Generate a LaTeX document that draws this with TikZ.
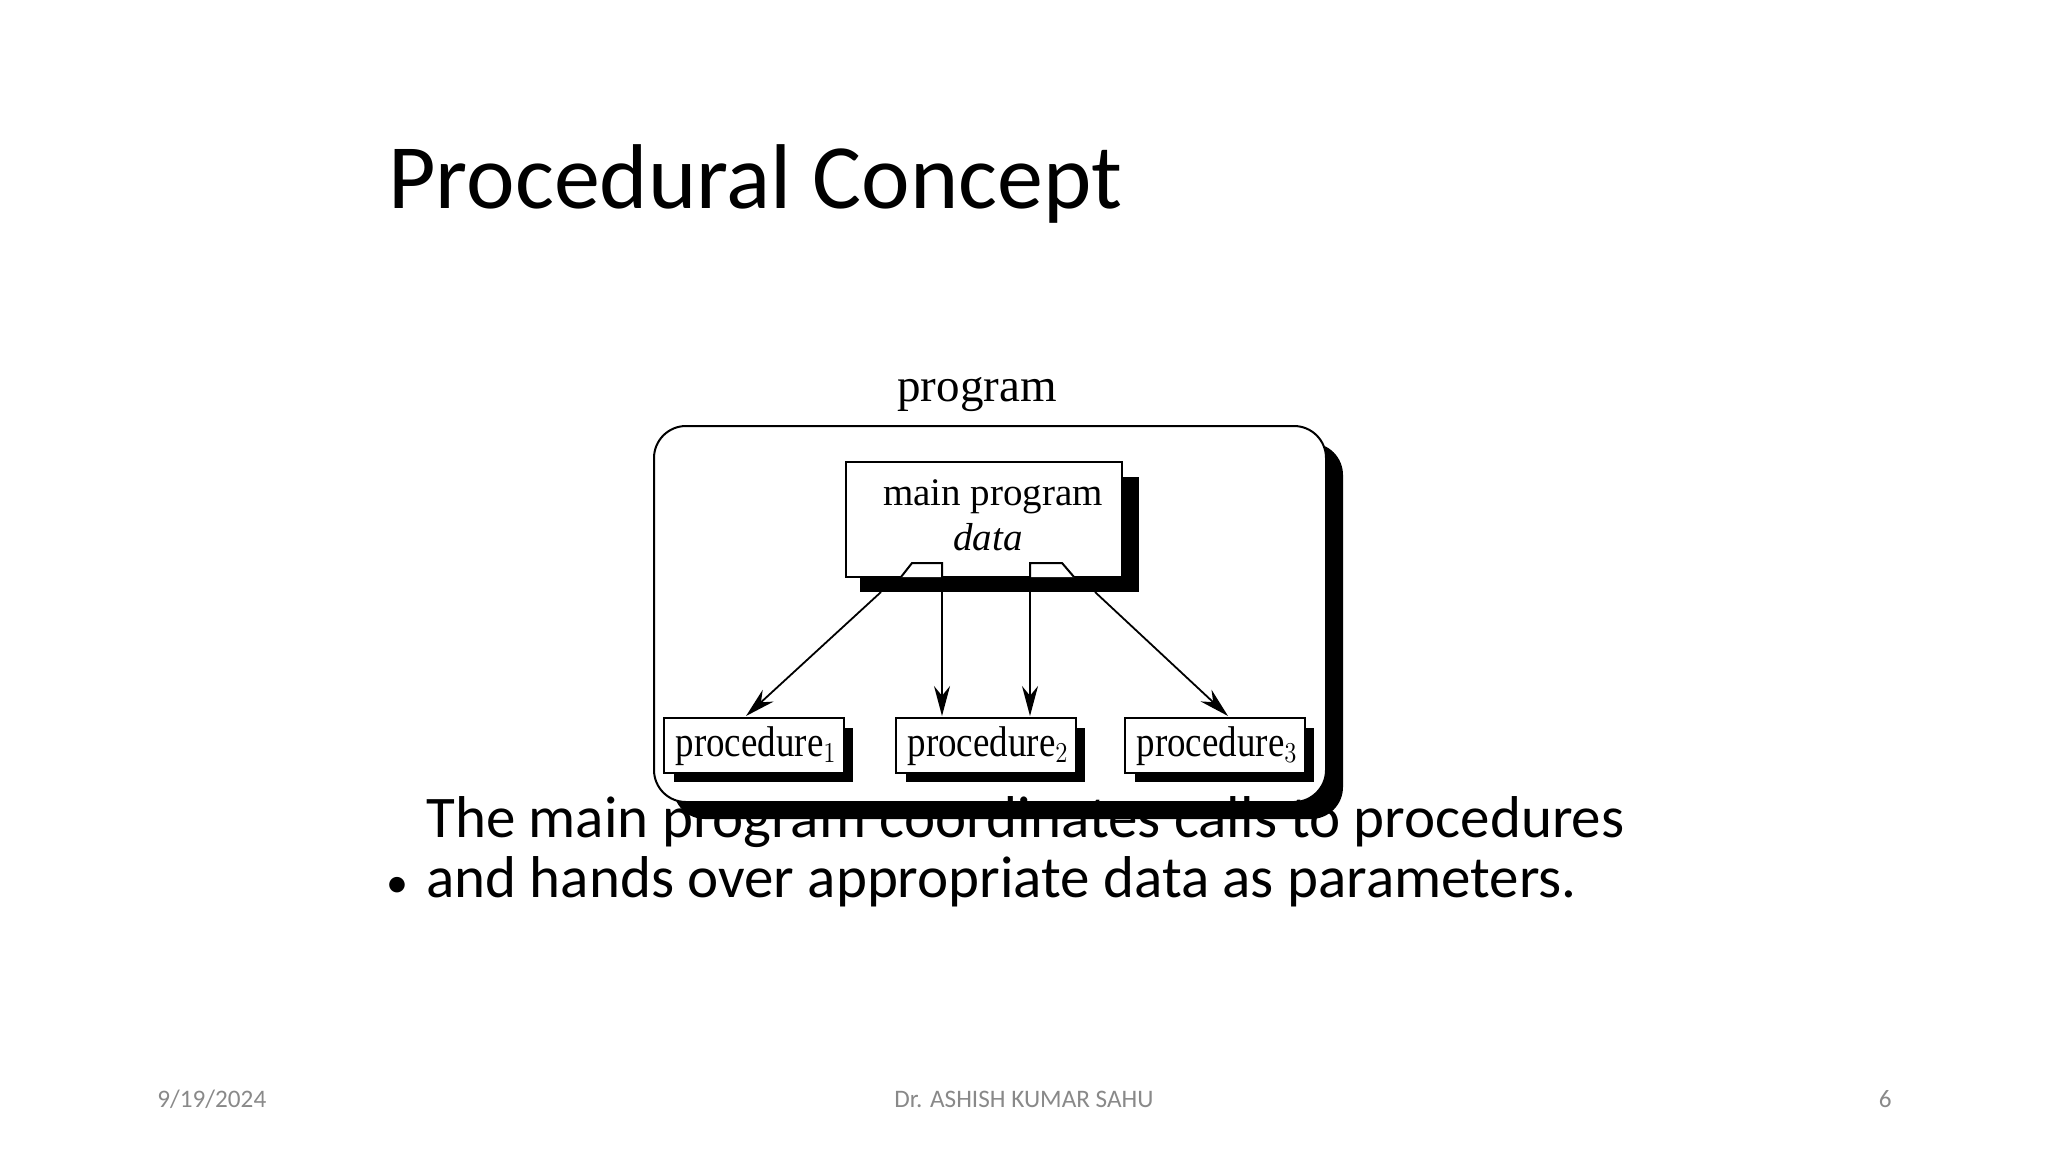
\documentclass[tikz,border=0pt]{standalone}
\usepackage{fontspec}
\setmainfont{Liberation Serif}
\newfontfamily\calfnt{Carlito}
\usetikzlibrary{arrows.meta}
\definecolor{foot}{RGB}{137,137,137}
\tikzset{
  box/.style={draw=black,fill=white,line width=1pt},
  shad/.style={fill=black},
  arr/.style={line width=0.9pt,-{Stealth[length=15pt,width=8pt]}},
}
\begin{document}
\begin{tikzpicture}[x=0.5pt,y=-0.5pt]
\useasboundingbox (0,0) rectangle (2048,1152);
% title
\node[anchor=base west,inner sep=0pt,font=\calfnt\fontsize{46}{54}\selectfont] (title) at (388,208) {Procedural Concept};
% outer
\fill[shad,rounded corners=16pt] (673,443) rectangle (1343,819);
\draw[box,rounded corners=16pt] (654,426) rectangle (1326,802);
\node[font=\fontsize{23.5}{26}\selectfont] (prog) at (977,395) {program};
% main program
\fill[shad] (860,477) rectangle (1139,592);
\draw[box] (846,462) rectangle (1122,577);
\node[font=\fontsize{19.5}{22}\selectfont] (mp) at (993,497) {main program};
\node[font=\itshape\fontsize{19.5}{22}\selectfont] (dt) at (988,537) {data};
% tabs
\draw[line width=1pt,fill=white] (901,577) -- (912,563) -- (942,563) -- (942,577);
\draw[line width=1pt,fill=white] (1030,577) -- (1030,563) -- (1062,563) -- (1074,577);
\coordinate (t1) at (942,563);
\coordinate (t2) at (1030,563);
\coordinate (s1) at (881,592);
\coordinate (s2) at (1095,592);
% procedures
\foreach \n/\x/\s in {p1/664/1,p2/896/2,p3/1125/3}{
  \fill[shad] (\x+10,728) rectangle (\x+189,782);
  \draw[box] (\x,718) rectangle (\x+180,773);
  \node[font=\fontsize{21.5}{24}\selectfont,inner sep=0pt] (\n) at (\x+92,746) {\scalebox{0.86}[1]{procedure$_{\s}$}};
}
\coordinate (e1) at (746,716);
\coordinate (e2) at (942,716);
\coordinate (e3) at (1030,716);
\coordinate (e4) at (1228,716);
\draw[arr] (s1) -- (e1);
\draw[arr] (t1) -- (e2);
\draw[arr] (t2) -- (e3);
\draw[arr] (s2) -- (e4);
% bullet text
\node[anchor=base west,inner sep=0pt,font=\calfnt\fontsize{22}{30}\selectfont] (bul) at (386,897) {\textbullet};
\node[anchor=base west,inner sep=0pt,align=left,font=\calfnt\fontsize{29.5}{30}\selectfont] (txt) at (426,897) {The main program coordinates calls to procedures\\and hands over appropriate data as parameters.};
% footer
\node[font=\calfnt\fontsize{12.6}{14}\selectfont,text=foot,anchor=west,inner sep=0pt] (d) at (157,1099) {9/19/2024};
\node[font=\calfnt\fontsize{12.6}{14}\selectfont,text=foot,inner sep=0pt] (a) at (1024,1099) {Dr. ASHISH KUMAR SAHU};
\node[font=\calfnt\fontsize{12.6}{14}\selectfont,text=foot,anchor=east,inner sep=0pt] (n) at (1892,1099) {6};
\end{tikzpicture}
\end{document}
